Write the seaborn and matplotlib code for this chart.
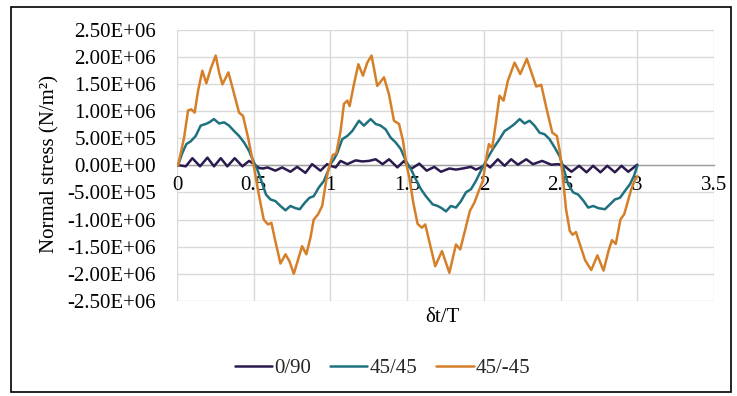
import matplotlib
matplotlib.use("Agg")
import matplotlib.pyplot as plt
import seaborn as sns
import numpy as np
import pandas as pd
from matplotlib.patches import Rectangle
from matplotlib.ticker import FuncFormatter

# stress readings are in units of 1E+05 N/m2
SCALE = 1e5

t_0_90 = [0.0, 0.013, 0.057, 0.1, 0.15, 0.198, 0.241, 0.285, 0.328, 0.376, 0.426, 0.47, 0.502,
          0.533, 0.56, 0.59, 0.641, 0.685, 0.739, 0.783, 0.837, 0.88, 0.935, 0.978, 1.0,
          1.034, 1.066, 1.11, 1.164, 1.208, 1.251, 1.295, 1.34, 1.382, 1.436, 1.48, 1.505,
          1.53, 1.579, 1.627, 1.677, 1.72, 1.775, 1.818, 1.861, 1.916, 1.948, 1.981, 2.014,
          2.041, 2.091, 2.135, 2.178, 2.222, 2.276, 2.32, 2.38, 2.439, 2.483, 2.515,
          2.528, 2.571, 2.621, 2.669, 2.712, 2.76, 2.804, 2.854, 2.897, 2.941, 3.0]
s_0_90 = [0.0, 0.0, -0.2, 1.3, -0.2, 1.4, -0.2, 1.3, -0.2, 1.3, -0.2, 0.8, 0.2,
          -0.5, -0.6, -0.4, -1.0, -0.4, -1.2, -0.3, -1.4, 0.2, -1.0, 0.2, -0.1,
          -0.4, 0.8, 0.2, 0.9, 0.7, 0.8, 1.1, 0.2, 1.1, -0.4, 0.8, -0.1,
          -0.6, 0.3, -1.0, -0.3, -1.2, -0.6, -0.8, -0.6, -0.3, -0.8, -0.4, 0.2,
          -0.4, 1.1, -0.1, 1.1, 0.1, 1.1, 0.2, 0.8, 0.1, 0.2, 0.0,
          -0.2, -1.2, -0.1, -1.3, -0.1, -1.3, -0.1, -1.3, -0.1, -1.2, 0.1]

t_45_45 = [0.0, 0.007, 0.035, 0.061, 0.089, 0.122, 0.154, 0.187, 0.21, 0.241, 0.274, 0.307,
           0.339, 0.372, 0.404, 0.437, 0.47, 0.5, 0.522, 0.55, 0.58, 0.609, 0.641, 0.674,
           0.707, 0.739, 0.772, 0.8, 0.833, 0.863, 0.891, 0.924, 0.957, 0.985, 1.0, 1.023,
           1.045, 1.077, 1.11, 1.142, 1.186, 1.218, 1.262, 1.295, 1.327, 1.36, 1.392, 1.425,
           1.458, 1.492, 1.524, 1.557, 1.59, 1.622, 1.666, 1.699, 1.725, 1.753, 1.785, 1.818,
           1.851, 1.883, 1.916, 1.948, 1.981, 2.014, 2.026, 2.059, 2.102, 2.135, 2.167, 2.2,
           2.233, 2.265, 2.298, 2.33, 2.363, 2.396, 2.428, 2.461, 2.493, 2.51, 2.53, 2.549,
           2.582, 2.615, 2.648, 2.68, 2.713, 2.746, 2.789, 2.822, 2.854, 2.887, 2.92, 2.952,
           2.978, 3.0]
s_45_45 = [0.0, 0.0, 2.3, 3.9, 4.4, 5.4, 7.3, 7.6, 7.9, 8.5, 7.7, 7.9,
           7.3, 6.3, 5.4, 4.2, 2.6, 0.6, -0.7, -2.9, -5.4, -6.3, -6.6, -7.5,
           -8.3, -7.5, -7.9, -8.1, -6.9, -6.0, -5.7, -4.1, -2.9, -1.0, 0.2, 1.1,
           2.3, 4.8, 5.4, 6.3, 8.2, 7.3, 8.5, 7.6, 7.3, 6.6, 5.1, 4.2,
           3.0, 0.8, -0.7, -2.6, -4.4, -5.7, -7.2, -7.5, -7.9, -8.5, -7.5, -7.8,
           -6.6, -5.0, -4.4, -2.9, -1.0, 0.8, 1.4, 3.0, 4.8, 6.3, 6.9, 7.6,
           8.5, 7.7, 8.2, 7.3, 6.0, 5.7, 4.8, 3.3, 1.7, 0.3, -1.6, -3.5,
           -5.0, -5.4, -6.5, -7.8, -7.5, -7.9, -8.1, -7.2, -6.3, -6.0, -4.7, -3.5,
           -2.0, -0.1]

t_45_m45 = [0.0, 0.007, 0.046, 0.072, 0.093, 0.115, 0.137, 0.165, 0.191, 0.22, 0.252, 0.275,
            0.296, 0.335, 0.367, 0.404, 0.43, 0.463, 0.502, 0.533, 0.565, 0.593, 0.615, 0.641,
            0.674, 0.707, 0.733, 0.761, 0.793, 0.815, 0.843, 0.87, 0.891, 0.92, 0.946, 0.972,
            0.985, 1.0, 1.016, 1.038, 1.066, 1.088, 1.11, 1.125, 1.153, 1.182, 1.212, 1.24,
            1.268, 1.305, 1.349, 1.381, 1.414, 1.447, 1.473, 1.495, 1.514, 1.54, 1.568, 1.596,
            1.618, 1.644, 1.683, 1.727, 1.775, 1.818, 1.846, 1.879, 1.909, 1.938, 1.97, 1.993,
            2.02, 2.033, 2.054, 2.08, 2.102, 2.128, 2.157, 2.2, 2.237, 2.28, 2.341, 2.374,
            2.407, 2.446, 2.476, 2.495, 2.515, 2.535, 2.56, 2.578, 2.6, 2.625, 2.66, 2.7,
            2.74, 2.78, 2.815, 2.835, 2.86, 2.89, 2.915, 2.94, 2.96, 2.98, 3.0]
s_45_m45 = [0.0, 0.0, 5.1, 10.1, 10.3, 9.7, 13.7, 17.4, 15.1, 17.8, 20.2, 17.0,
            14.9, 17.1, 13.7, 9.7, 9.1, 5.1, -0.4, -5.4, -10.0, -10.9, -10.6, -14.0,
            -18.1, -16.4, -17.7, -20.0, -17.0, -14.9, -16.4, -13.3, -10.0, -9.0, -7.5, -2.9,
            -1.0, 0.5, 1.9, 2.2, 6.3, 11.3, 11.9, 10.9, 14.9, 18.6, 16.5, 18.9,
            20.2, 14.6, 16.2, 13.1, 8.2, 7.6, 4.5, 0.2, -2.3, -6.9, -10.8, -11.5,
            -10.9, -14.0, -18.6, -15.8, -19.8, -14.6, -15.5, -11.8, -8.4, -6.9, -4.5, -2.9,
            2.0, 3.9, 3.1, 8.2, 12.8, 11.9, 15.6, 18.9, 16.8, 19.6, 14.5, 14.8,
            10.6, 6.0, 5.4, 2.5, -2.3, -8.0, -12.1, -12.8, -12.3, -14.5, -17.5, -19.3,
            -16.6, -19.4, -15.5, -13.8, -14.5, -10.0, -9.0, -6.5, -4.5, -3.0, -2.0]

labels = ["0/90", "45/45", "45/-45"]
colors = ["#2b1a4e", "#1f717f", "#d57f29"]

frames = []
for lab, t, s in zip(labels, [t_0_90, t_45_45, t_45_m45], [s_0_90, s_45_45, s_45_m45]):
    frames.append(pd.DataFrame({"dt_T": t, "stress": np.array(s) * SCALE, "laminate": lab}))
df = pd.concat(frames, ignore_index=True)

sns.set_theme(style="white")
plt.rcParams["font.family"] = ["Liberation Serif", "DejaVu Serif"]

fig = plt.figure(figsize=(7.37, 3.96), dpi=100)
ax = fig.add_axes([0.2402, 0.2399, 0.7286, 0.6856])

sns.lineplot(data=df, x="dt_T", y="stress", hue="laminate", hue_order=labels,
             palette=dict(zip(labels, colors)), estimator=None, sort=False,
             lw=1.8, ax=ax, zorder=3)

ax.set_xlim(0, 3.5)
ax.set_ylim(-2.5e6, 2.5e6)
ax.set_xticks(np.arange(0, 3.51, 0.5))
ax.set_xticklabels(["0", "0.5", "1", "1.5", "2", "2.5", "3", "3.5"])
ax.set_yticks(np.arange(-2.5e6, 2.51e6, 5e5))
ax.yaxis.set_major_formatter(FuncFormatter(lambda v, _: f"{v:.2E}"))
ax.grid(True, color="#d9d9d9", lw=1.0)

for side in ["top", "right", "left"]:
    ax.spines[side].set_visible(False)
ax.spines["bottom"].set_position(("data", 0))
ax.spines["bottom"].set_color("#a0a0a0")
ax.spines["bottom"].set_linewidth(1.0)

ax.tick_params(axis="y", length=0, pad=15, labelsize=15, labelcolor="black")
ax.tick_params(axis="x", length=0, pad=8, labelsize=15, labelcolor="black")

ax.set_ylabel("Normal stress (N/m²)", fontsize=15, color="black")
ax.yaxis.set_label_coords(-0.2365, 0.503)
ax.yaxis.label.set_va("center")
ax.set_xlabel("δt/T", fontsize=15, color="black")
ax.xaxis.set_label_coords(0.495, -0.0626)
ax.xaxis.label.set_va("center")

handles, labs = ax.get_legend_handles_labels()
ax.get_legend().remove()
fig.legend(handles, labs, loc="center", bbox_to_anchor=(0.519, 0.0707), ncol=3,
           frameon=False, fontsize=15, handlelength=1.8, handletextpad=0.1,
           columnspacing=0.9)

fig.add_artist(Rectangle((11 / 737, 1 - 392 / 396), 720 / 737, 385 / 396,
                         transform=fig.transFigure, fill=False, ec="black", lw=1.2))

fig.savefig("out.png", dpi=100)
plt.close(fig)
